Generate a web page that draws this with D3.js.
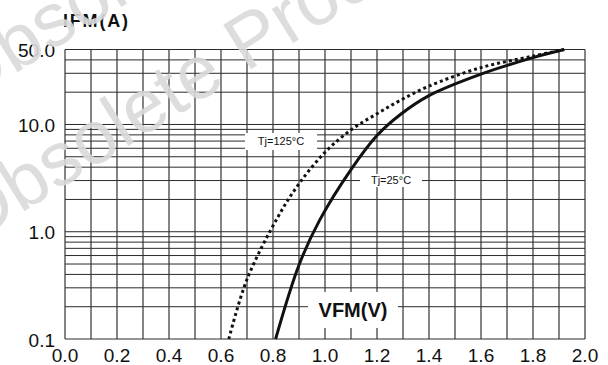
<!DOCTYPE html>
<html>
<head>
<meta charset="utf-8">
<script src="https://cdn.jsdelivr.net/npm/d3@7"></script>
<style>
    body { margin: 0; background: #fff; }
    svg { display: block; font-family: Arial, "Liberation Sans", sans-serif; }
</style>
</head>
<body>
<svg id="chart" width="608" height="365"></svg>
<script>
// forward voltage (V) vs forward current (A)
const vf25 = [0.81, 0.90, 0.98, 1.10, 1.20, 1.29, 1.40, 1.60, 1.80, 1.92];
const if25 = [0.1, 0.49, 1.29, 3.8, 7.9, 12.4, 18.6, 29.5, 42.0, 50.0];

const vf125 = [0.63, 0.70, 0.82, 0.90, 1.00, 1.10, 1.20, 1.29, 1.40, 1.60, 1.80, 1.92];
const if125 = [0.1, 0.36, 1.39, 2.8, 5.5, 8.9, 12.6, 16.8, 22.8, 33.9, 43.4, 50.0];

const xTicks = [0, 0.2, 0.4, 0.6, 0.8, 1.0, 1.2, 1.4, 1.6, 1.8, 2.0];
const yTicks = [0.1, 1, 10, 50];
const yTickLabels = ['0.1', '1.0', '10.0', '50.0'];

const Chart = {};

Chart.init = function() {
    Chart.svg = d3.select('#chart');

    Chart.x = d3.scaleLinear().domain([0, 2]).range([65, 585]);
    Chart.y = d3.scaleLog().domain([0.1, 50]).range([339, 49.5]);

    Chart.drawGrid();
    Chart.drawCurves();
    Chart.drawLabels();
    Chart.drawWatermark();
};

Chart.drawGrid = function() {
    const g = Chart.svg.append('g');

    // minor log lines: 0.1..0.9, 1..9, 10..50
    let yLines = [];
    [0.1, 1, 10].forEach(function(dec) {
        for (let k = 1; k <= 9; k++) {
            let v = dec * k;
            if (v <= 50.0001) yLines.push(v);
        }
    });
    yLines.push(50);

    g.selectAll('.hl')
        .data(yLines)
        .enter().append('line')
            .attr('x1', Chart.x(0)).attr('x2', Chart.x(2))
            .attr('y1', d => Chart.y(d)).attr('y2', d => Chart.y(d))
            .attr('stroke', '#2a2a2a')
            .attr('stroke-width', 1);

    g.selectAll('.vl')
        .data(d3.range(0, 21).map(i => i / 10))
        .enter().append('line')
            .attr('x1', d => Chart.x(d)).attr('x2', d => Chart.x(d))
            .attr('y1', Chart.y(50)).attr('y2', Chart.y(0.1))
            .attr('stroke', '#333')
            .attr('stroke-width', 1.2);

    // axis tick labels
    g.selectAll('.xt')
        .data(xTicks)
        .enter().append('text')
            .attr('x', d => Chart.x(d))
            .attr('y', 362)
            .attr('text-anchor', 'middle')
            .attr('font-size', 19)
            .attr('fill', '#111')
            .text(d => d.toFixed(1));

    g.selectAll('.yt')
        .data(yTicks)
        .enter().append('text')
            .attr('x', 55)
            .attr('y', d => Chart.y(d) + 7.5)
            .attr('text-anchor', 'end')
            .attr('font-size', 19)
            .attr('fill', '#111')
            .text((d, i) => yTickLabels[i]);
};

Chart.drawCurves = function() {
    const line = d3.line()
        .x(d => Chart.x(d[0]))
        .y(d => Chart.y(d[1]))
        .curve(d3.curveCatmullRom.alpha(0.5));

    Chart.svg.append('path')
        .datum(d3.zip(vf125, if125))
        .attr('d', line)
        .attr('fill', 'none')
        .attr('stroke', '#111')
        .attr('stroke-width', 3)
        .attr('stroke-dasharray', '3,3');

    Chart.svg.append('path')
        .datum(d3.zip(vf25, if25))
        .attr('d', line)
        .attr('fill', 'none')
        .attr('stroke', '#111')
        .attr('stroke-width', 3);
};

Chart.boxLabel = function(cx, cy, w, h, txt, size, weight) {
    Chart.svg.append('rect')
        .attr('x', cx - w / 2).attr('y', cy - h / 2)
        .attr('width', w).attr('height', h)
        .attr('fill', '#fff');
    Chart.svg.append('text')
        .attr('x', cx).attr('y', cy + size * 0.36)
        .attr('text-anchor', 'middle')
        .attr('font-size', size)
        .attr('font-weight', weight)
        .attr('fill', '#111')
        .text(txt);
};

Chart.drawLabels = function() {
    Chart.boxLabel(281, 141.5, 72, 17, 'Tj=125°C', 11, 'normal');
    Chart.boxLabel(391, 180.5, 62, 13, 'Tj=25°C', 11, 'normal');
    Chart.boxLabel(353, 310, 90, 36, 'VFM(V)', 20, 'bold');

    Chart.svg.append('text')
        .attr('x', 63).attr('y', 27)
        .attr('font-size', 18)
        .attr('font-weight', 'bold')
        .attr('fill', '#111')
        .attr('textLength', 65)
        .text('IFM(A)');
};

Chart.drawWatermark = function() {
    const marks = [[-30, 245], [-37, 106]];
    Chart.svg.selectAll('.wm')
        .data(marks)
        .enter().append('text')
            .attr('transform', d => 'translate(' + d[0] + ',' + d[1] + ') rotate(-32)')
            .attr('font-size', 76)
            .attr('fill', '#d9d9d9')
            .attr('fill-opacity', 0.9)
            .text('Obsolete Product');
};

document.addEventListener('DOMContentLoaded', Chart.init);
</script>
</body>
</html>
